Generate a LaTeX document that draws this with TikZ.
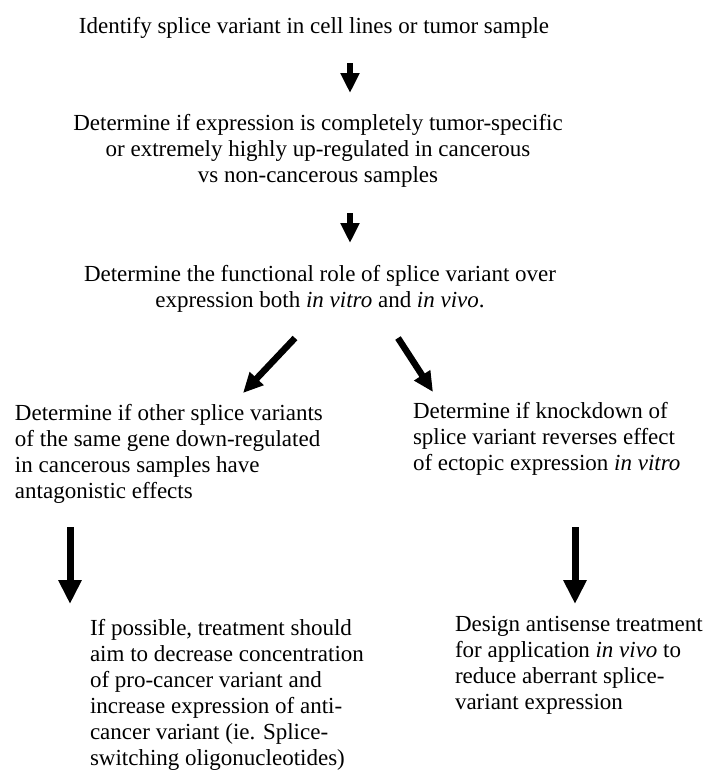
\documentclass[tikz,border=0pt]{standalone}
\usepackage{fontspec}
\setmainfont{Liberation Serif}
\usetikzlibrary{arrows.meta}
\begin{document}
\begin{tikzpicture}[x=1pt,y=-1pt,
  txt/.style={inner sep=0pt, outer sep=0pt, font=\fontsize{23}{26}\selectfont},
  ctr/.style={txt, align=center, anchor=base},
  lft/.style={txt, align=left, anchor=base west},
  bigarrow/.style={line width=6.5pt, -{Triangle[width=18pt,length=20pt]}},
  longarrow/.style={line width=7pt, -{Triangle[width=22pt,length=24pt]}}]
\useasboundingbox (0,0) rectangle (705,772);

% anchor = baseline of the last line of each block
\node[ctr] (n1) at (314,33) {Identify splice variant in cell lines or tumor sample};
\node[ctr] (n2) at (318,182) {Determine if expression is completely tumor-specific\\or extremely highly up-regulated in cancerous\\vs non-cancerous samples};
\node[ctr] (n3) at (320,307) {Determine the functional role of splice variant over\\expression both \textit{in vitro} and \textit{in vivo}.};
\node[lft] (n4) at (15,498) {Determine if other splice variants\\of the same gene down-regulated\\in cancerous samples have\\antagonistic effects};
\node[lft] (n5) at (413,470) {Determine if knockdown of\\splice variant reverses effect\\of ectopic expression \textit{in vitro}};
\node[lft] (n6) at (90,765) {If possible, treatment should\\aim to decrease concentration\\of pro-cancer variant and\\increase expression of anti-\\cancer variant (ie. Splice-\\switching oligonucleotides)};
\node[lft] (n7) at (455,709) {Design antisense treatment\\for application \textit{in vivo} to\\reduce aberrant splice-\\variant expression};

\coordinate (a1s) at (350,63);  \coordinate (a1e) at (350,93);
\coordinate (a2s) at (350,213); \coordinate (a2e) at (350,243);
\coordinate (a3s) at (295,338); \coordinate (a3e) at (243,393);
\coordinate (a4s) at (398,338); \coordinate (a4e) at (433,392);
\coordinate (a5s) at (70,527);  \coordinate (a5e) at (70,604);
\coordinate (a6s) at (575,527); \coordinate (a6e) at (575,604);

\draw[bigarrow] (a1s) -- (a1e);
\draw[bigarrow] (a2s) -- (a2e);
\draw[bigarrow] (a3s) -- (a3e);
\draw[bigarrow] (a4s) -- (a4e);
\draw[longarrow] (a5s) -- (a5e);
\draw[longarrow] (a6s) -- (a6e);
\end{tikzpicture}
\end{document}
